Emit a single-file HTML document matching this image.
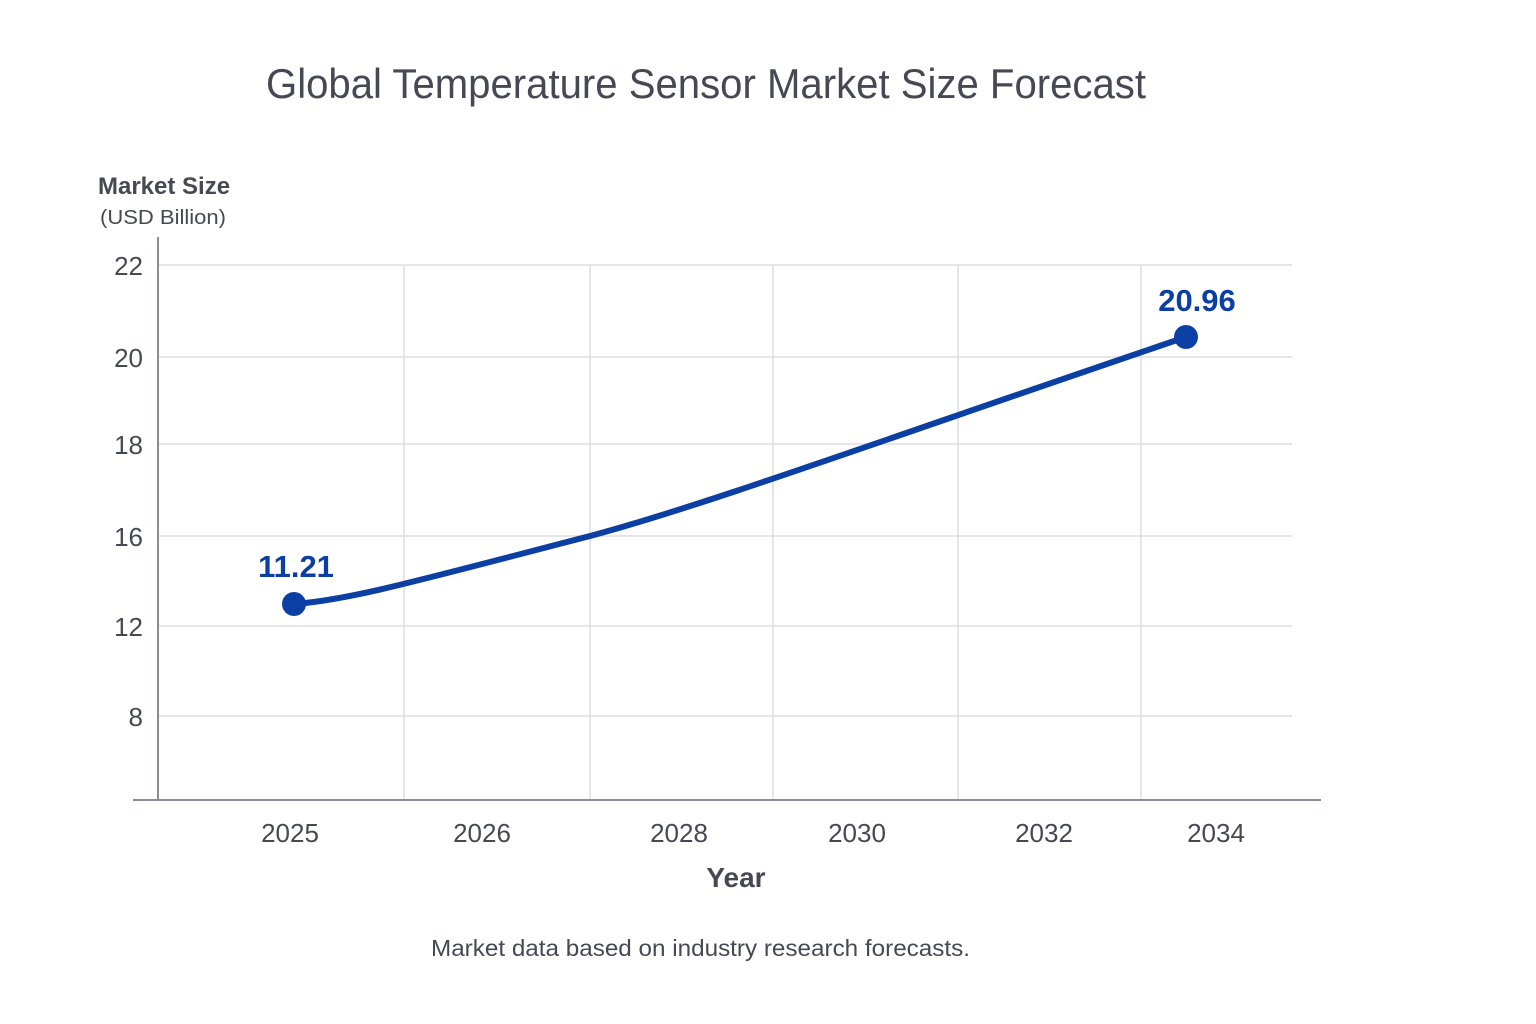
<!DOCTYPE html>
<html><head><meta charset="utf-8"><style>
html,body{margin:0;padding:0;background:#fff;}
svg{display:block;}
text{font-family:"Liberation Sans","DejaVu Sans",sans-serif;}
</style></head><body>
<svg width="1536" height="1024" viewBox="0 0 1536 1024" xmlns="http://www.w3.org/2000/svg">
<rect width="1536" height="1024" fill="#fff"/>
<text x="266" y="98" font-size="42" fill="#464953" textLength="880" lengthAdjust="spacingAndGlyphs">Global Temperature Sensor Market Size Forecast</text>
<text x="98" y="194" font-size="24" font-weight="bold" fill="#464953">Market Size</text>
<text x="100" y="224" font-size="20" fill="#464953" textLength="126" lengthAdjust="spacingAndGlyphs">(USD Billion)</text>
<g stroke="#dcdde1" stroke-width="1.5">
<line x1="158" y1="265" x2="1292" y2="265"/>
<line x1="158" y1="357" x2="1292" y2="357"/>
<line x1="158" y1="444" x2="1292" y2="444"/>
<line x1="158" y1="536" x2="1292" y2="536"/>
<line x1="158" y1="626" x2="1292" y2="626"/>
<line x1="158" y1="716" x2="1292" y2="716"/>
<line x1="404" y1="265" x2="404" y2="800"/>
<line x1="590" y1="265" x2="590" y2="800"/>
<line x1="773" y1="265" x2="773" y2="800"/>
<line x1="958" y1="265" x2="958" y2="800"/>
<line x1="1141" y1="265" x2="1141" y2="800"/>
</g>
<line x1="158" y1="237" x2="158" y2="800" stroke="#8a8d95" stroke-width="2"/>
<line x1="133" y1="800" x2="1321" y2="800" stroke="#8a8d95" stroke-width="2"/>
<g font-size="26" fill="#464953" text-anchor="end">
<text x="143" y="275">22</text>
<text x="143" y="367">20</text>
<text x="143" y="454">18</text>
<text x="143" y="546">16</text>
<text x="143" y="636">12</text>
<text x="143" y="726">8</text>
</g>
<g font-size="26" fill="#464953" text-anchor="middle">
<text x="290" y="842">2025</text>
<text x="482" y="842">2026</text>
<text x="679" y="842">2028</text>
<text x="857" y="842">2030</text>
<text x="1044" y="842">2032</text>
<text x="1216" y="842">2034</text>
</g>
<text x="736" y="887" text-anchor="middle" font-size="28" font-weight="bold" fill="#464953">Year</text>
<path d="M294,604 C350,600 420,580 590,536 C700,507 900,434 1186,337" fill="none" stroke="#0b3fa3" stroke-width="6" stroke-linecap="round" stroke-linejoin="round"/>
<circle cx="294" cy="604" r="12" fill="#0b3fa3"/>
<circle cx="1186" cy="337" r="12" fill="#0b3fa3"/>
<text x="296" y="577" text-anchor="middle" font-size="31" font-weight="bold" fill="#0b3fa3">11.21</text>
<text x="1197" y="311" text-anchor="middle" font-size="31" font-weight="bold" fill="#0b3fa3">20.96</text>
<text x="431" y="956" font-size="23" fill="#464953" textLength="539" lengthAdjust="spacingAndGlyphs">Market data based on industry research forecasts.</text>
</svg>
</body></html>
